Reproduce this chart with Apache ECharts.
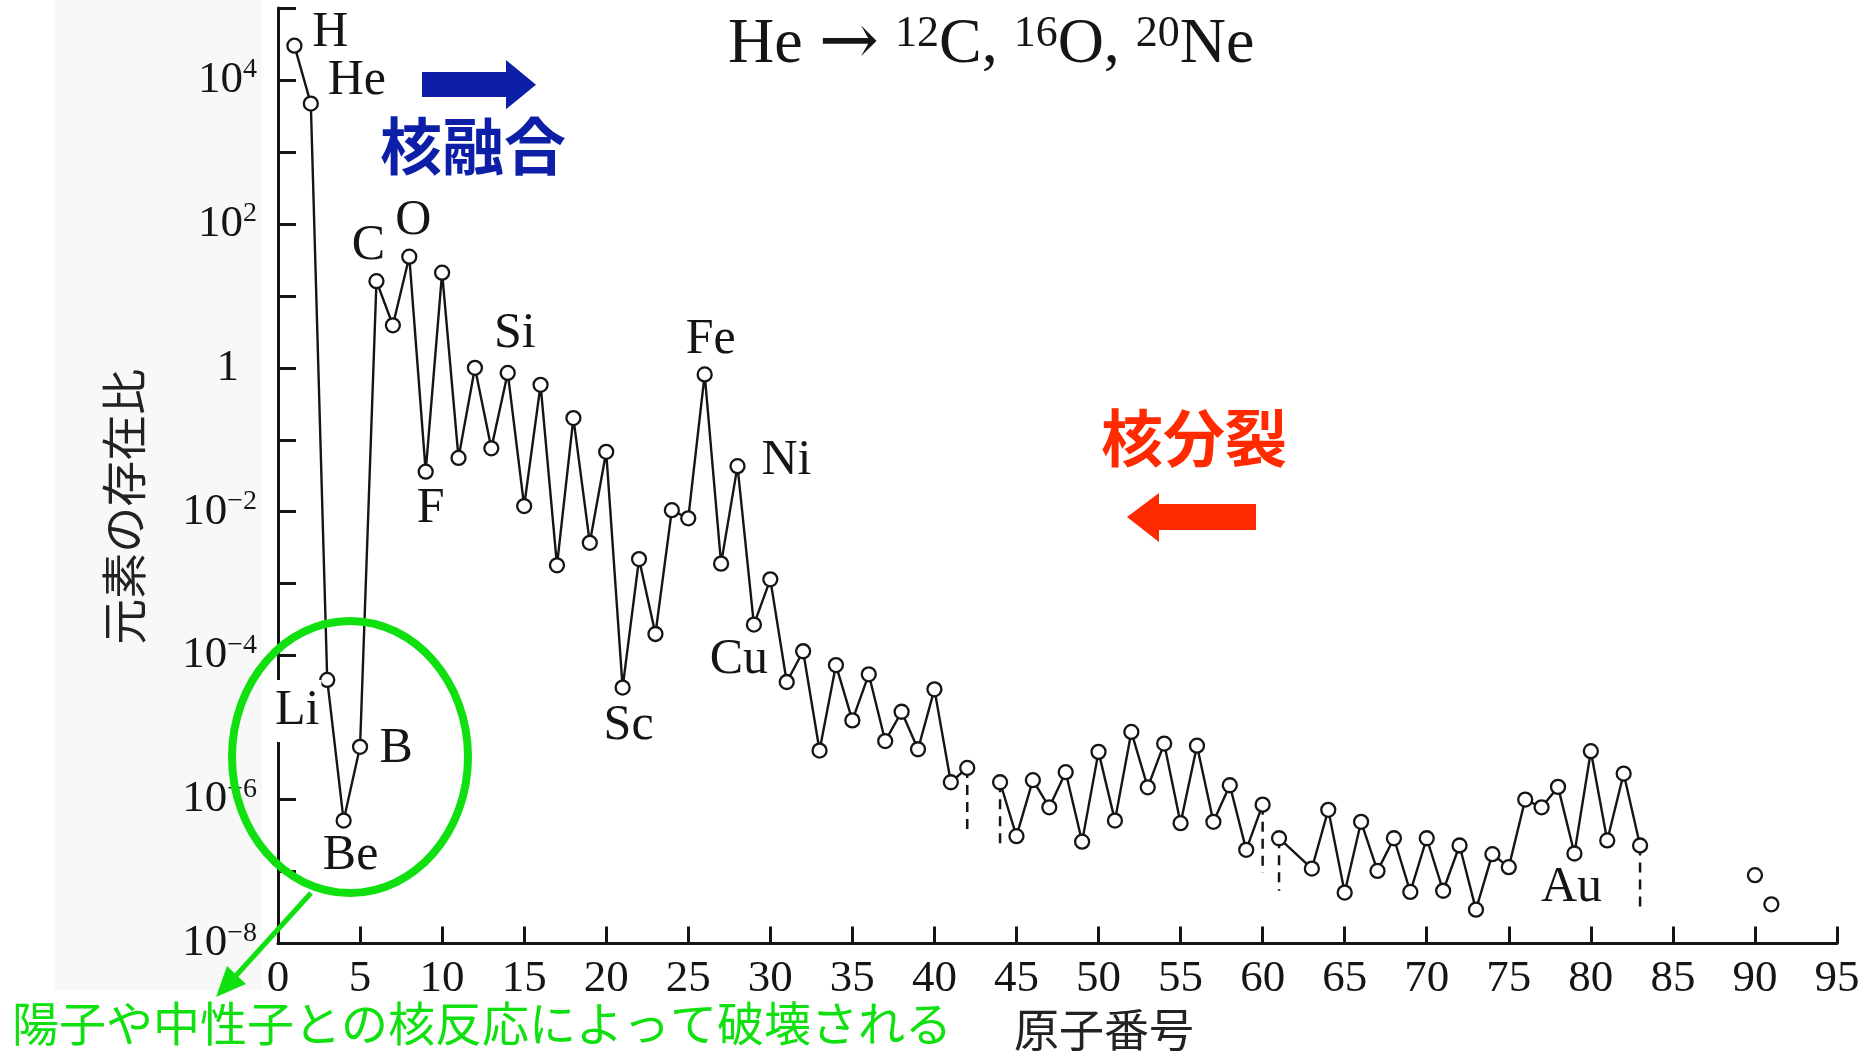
<!DOCTYPE html>
<html>
<head>
<meta charset="utf-8">
<script src="https://cdn.jsdelivr.net/npm/echarts@6/dist/echarts.min.js"></script>
<style>
html,body{margin:0;padding:0;background:#fff;}
#main{width:1874px;height:1057px;}
</style>
</head>
<body>
<div id="main"></div>
<script>
// ---------------- data ----------------
const atomicNumbers = [
  1,2,3,4,5,6,7,8,9,10,11,12,13,14,15,16,17,18,19,20,
  21,22,23,24,25,26,27,28,29,30,31,32,33,34,35,36,37,38,39,40,41,42,
  44,45,46,47,48,49,50,51,52,53,54,55,56,57,58,59,60,
  61,63,64,65,66,67,68,69,70,71,72,73,74,75,76,77,78,79,80,81,82,83,
  90,91
];
const abundance = [
  3.0e4,4.7e3,4.6e-5,5.1e-7,5.4e-6,16,3.9,35,3.6e-2,21,5.6e-2,1.0,7.6e-2,0.85,1.2e-2,0.58,1.8e-3,0.20,3.7e-3,6.8e-2,
  3.6e-5,2.2e-3,2.0e-4,1.05e-2,8.1e-3,0.81,1.9e-3,4.3e-2,2.7e-4,1.15e-3,4.3e-5,1.15e-4,4.8e-6,7.4e-5,1.26e-5,5.5e-5,6.5e-6,1.66e-5,5.0e-6,3.4e-5,1.74e-6,2.75e-6,
  1.74e-6,3.1e-7,1.86e-6,7.8e-7,2.4e-6,2.6e-7,4.6e-6,5.1e-7,8.7e-6,1.48e-6,6.0e-6,4.7e-7,5.6e-6,4.9e-7,1.58e-6,2.0e-7,8.5e-7,
  2.9e-7,1.1e-7,7.2e-7,5.1e-8,4.9e-7,1.02e-7,2.9e-7,5.2e-8,2.9e-7,5.4e-8,2.3e-7,2.95e-8,1.74e-7,1.15e-7,1.0e-6,7.8e-7,1.5e-6,1.78e-7,4.7e-6,2.7e-7,2.3e-6,2.3e-7,
  8.9e-8,3.5e-8
];
// the connecting line is broken after these atomic numbers
const lineBreakAfter = [42, 60, 83, 90];
// element symbols written next to points
const elementLabels = {1:'H',2:'He',3:'Li',4:'Be',5:'B',6:'C',8:'O',9:'F',14:'Si',21:'Sc',26:'Fe',28:'Ni',29:'Cu',79:'Au'};
// dashed drop lines marking gaps: atomic number and lower end value
const dashedZ = [42, 44, 60, 61, 83];
const dashedBottom = [3.5e-7, 2.2e-7, 9.5e-8, 5.4e-8, 2.7e-8];
// axis ticks / labels
const xTickLabels = [0,5,10,15,20,25,30,35,40,45,50,55,60,65,70,75,80,85,90,95];
const yTickValues = [1e-8,1e-7,1e-6,1e-5,1e-4,1e-3,1e-2,1e-1,1,1e1,1e2,1e3,1e4,1e5];
const yLabelValues = [1e-8,1e-6,1e-4,1e-2,1,1e2,1e4];
const titleText = ['He ', '→', ' ', '12', 'C, ', '16', 'O, ', '20', 'Ne'];

// ---------------- styling / layout ----------------
const SERIF = '"Liberation Serif","Times New Roman",serif';
const CJK = '"Noto Sans CJK JP","Noto Sans CJK SC",sans-serif';
const INK = '#151515';
const GREEN = '#10e010';
const labelOffsets = {
  H:[36,-13], He:[46,-23], Li:[-30,31], Be:[7,35], B:[36,2], C:[-8,-35], O:[4,-36],
  F:[5,37], Si:[7,-39], Sc:[6,38], Fe:[6,-35], Ni:[49,-5], Cu:[-15,35], Au:[-3,34]
};

function pointItem(z, v) {
  const item = { value: [z, v] };
  const name = elementLabels[z];
  if (name) {
    item.label = {
      show: true, position: 'inside', formatter: name, offset: labelOffsets[name],
      fontFamily: SERIF, fontSize: 50, color: INK, align: 'center', verticalAlign: 'middle',
      backgroundColor: name === 'Li' ? '#fff' : 'transparent',
      padding: name === 'Li' ? [6, 2] : 0
    };
  }
  return item;
}

const segments = [];
let cur = [];
atomicNumbers.forEach((z, i) => {
  cur.push(pointItem(z, abundance[i]));
  if (lineBreakAfter.includes(z)) { segments.push(cur); cur = []; }
});
if (cur.length) segments.push(cur);

const series = [];
dashedZ.forEach((z, i) => {
  const top = abundance[atomicNumbers.indexOf(z)];
  series.push({
    type: 'line', z: 1, symbol: 'none', silent: true, animation: false,
    lineStyle: { color: INK, width: 2.5, type: [10, 7] },
    data: [[z, top], [z, dashedBottom[i]]]
  });
});
segments.forEach(seg => {
  series.push({
    type: 'line', z: 3, animation: false, silent: true,
    symbol: 'circle', symbolSize: 14, showSymbol: true, showAllSymbol: true,
    itemStyle: { color: '#fff', borderColor: INK, borderWidth: 2.3 },
    lineStyle: { color: INK, width: 2.4 },
    label: { show: false },
    emphasis: { disabled: true },
    data: seg
  });
});

function yLabel(v) {
  const e = Math.round(Math.log10(v));
  if (e % 2 !== 0) return '';
  if (e === 0) return '{one|1}';
  return '{b|10}{s|' + (e < 0 ? '−' : '') + Math.abs(e) + '}';
}

const titleStyles = ['b', 'a', 'b', 's', 'b', 's', 'b', 's', 'b'];
const option = {
  backgroundColor: '#fff',
  animation: false,
  title: {
    text: titleText.map((t, i) => '{' + titleStyles[i] + '|' + t + '}').join(''),
    left: 728, top: 12, padding: 0,
    textStyle: {
      fontWeight: 'normal',
      rich: {
        b: { fontFamily: SERIF, fontSize: 64, lineHeight: 66, color: INK, fontWeight: 'normal' },
        a: { fontFamily: '"DejaVu Serif",serif', fontSize: 72, lineHeight: 66, color: INK, fontWeight: 'normal' },
        s: { fontFamily: SERIF, fontSize: 44, lineHeight: 44, color: INK, fontWeight: 'normal', verticalAlign: 'top' }
      }
    }
  },
  grid: { left: 278, right: 37, top: 8, bottom: 113.5, containLabel: false, outerBoundsMode: 'none' },
  xAxis: {
    type: 'value', min: xTickLabels[0], max: xTickLabels[xTickLabels.length - 1], interval: 5,
    name: '原子番号', nameLocation: 'middle', nameGap: 64,
    nameTextStyle: { fontFamily: CJK, fontSize: 45, color: '#222', padding: [0, 0, 0, 93] },
    axisLine: { show: true, onZero: false, lineStyle: { color: INK, width: 3 } },
    axisTick: { show: true, inside: true, length: 17, lineStyle: { color: INK, width: 3 } },
    axisLabel: { fontFamily: SERIF, fontSize: 45, color: INK, margin: 13, showMinLabel: true, showMaxLabel: true },
    splitLine: { show: false }
  },
  yAxis: {
    type: 'log', logBase: 10, min: 0.999e-8, max: 1.001e5,
    name: '元素の存在比', nameLocation: 'middle', nameRotate: 90, nameGap: 131,
    nameTextStyle: { fontFamily: CJK, fontSize: 46, color: '#222', padding: [0, 62, 0, 0] },
    axisLine: { show: true, onZero: false, lineStyle: { color: INK, width: 3 } },
    axisTick: { show: true, inside: true, length: 18, lineStyle: { color: INK, width: 3 }, customValues: yTickValues },
    minorTick: { show: false },
    axisLabel: {
      customValues: yLabelValues, margin: 21, formatter: yLabel, color: INK,
      rich: {
        b: { fontFamily: SERIF, fontSize: 45, color: INK },
        s: { fontFamily: SERIF, fontSize: 28, color: INK, padding: [0, 0, 20, 0] },
        one: { fontFamily: SERIF, fontSize: 45, color: INK, padding: [0, 18, 0, 0] }
      }
    },
    splitLine: { show: false }
  },
  graphic: [
    { type: 'rect', z: -10, shape: { x: 55, y: 0, width: 207, height: 990 }, style: { fill: '#f8f8f8' }, silent: true },
    { type: 'polygon', z: 100, shape: { points: [[422,72],[506,72],[506,60],[536,84.7],[506,109.3],[506,97],[422,97]] }, style: { fill: '#0d1fa6' } },
    { type: 'text', z: 100, x: 473, y: 146, style: { text: '核融合', font: 'bold 62px ' + CJK, fill: '#0d1fa6', align: 'center', verticalAlign: 'middle' } },
    { type: 'text', z: 100, x: 1194, y: 438, style: { text: '核分裂', font: 'bold 62px ' + CJK, fill: '#ff2a00', align: 'center', verticalAlign: 'middle' } },
    { type: 'polygon', z: 100, shape: { points: [[1256,504],[1159,504],[1159,493],[1127,517],[1159,542],[1159,530],[1256,530]] }, style: { fill: '#ff2a00' } },
    { type: 'ellipse', z: 100, shape: { cx: 350, cy: 757, rx: 118, ry: 136 }, style: { fill: 'none', stroke: GREEN, lineWidth: 8 } },
    { type: 'line', z: 100, shape: { x1: 311, y1: 893, x2: 232, y2: 980 }, style: { stroke: GREEN, lineWidth: 5 } },
    { type: 'polygon', z: 100, shape: { points: [[216,997],[246,984],[227,966]] }, style: { fill: GREEN } },
    { type: 'text', z: 100, x: 12, y: 1023, style: { text: '陽子や中性子との核反応によって破壊される', font: '47px ' + CJK, fill: GREEN, align: 'left', verticalAlign: 'middle' } }
  ],
  series: series
};
const myChart = echarts.init(document.getElementById('main'), null, { renderer: 'canvas' });
myChart.setOption(option);
</script>
</body>
</html>
